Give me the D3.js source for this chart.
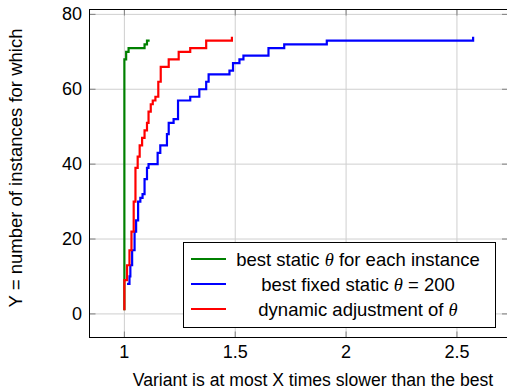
<!DOCTYPE html>
<html>
<head>
<meta charset="utf-8">
<script src="https://cdn.jsdelivr.net/npm/d3@7"></script>
<style>
  body { margin: 0; background: #fff; }
  text { font-family: "Liberation Sans", Arial, sans-serif; fill: #000; }
  .math { font-family: "Liberation Serif", "DejaVu Serif", serif; font-style: italic; }
</style>
</head>
<body>
<svg id="svg1" width="507" height="392"></svg>
<script>
// tick labels
var xTicks = [1, 1.5, 2, 2.5];
var yTicks = [0, 20, 40, 60, 80];

// step curves: ratio where the count steps up, count after the step
var greenX = [1.000, 1.000, 1.008, 1.019, 1.091, 1.102, 1.114];
var greenY = [1, 68, 70, 71, 72, 73, 73];

var blueX = [1.012, 1.023, 1.027, 1.035, 1.046, 1.053, 1.062, 1.072, 1.082, 1.091, 1.102, 1.109,
             1.150, 1.162, 1.192, 1.200, 1.222, 1.242, 1.297, 1.338, 1.369, 1.380, 1.474, 1.490,
             1.519, 1.537, 1.650, 1.721, 1.913, 2.573];
var blueY = [8, 10, 13, 17, 22, 25, 30, 31, 32, 36, 39, 40,
             43, 45, 48, 51, 52, 57, 58, 60, 62, 64, 65, 67,
             68, 69, 71, 72, 73, 74];

var redX = [1.000, 1.000, 1.012, 1.023, 1.032, 1.042, 1.050, 1.060, 1.069, 1.080, 1.091, 1.102,
            1.109, 1.119, 1.128, 1.140, 1.153, 1.164, 1.200, 1.245, 1.297, 1.369, 1.485];
var redY = [1, 9, 13, 17, 22, 30, 39, 42, 45, 47, 49, 51,
            54, 56, 57, 58, 62, 66, 68, 70, 71, 73, 74];

var legendLabels = ["best static \u03b8 for each instance", "best fixed static \u03b8 = 200", "dynamic adjustment of \u03b8"];
var seriesColors = ["#008000", "#0000ff", "#ff0000"];

var svg = d3.select('svg');

var plotLeft = 89.5, plotRight = 508, plotTop = 9.5, plotBottom = 337.5;

var x = d3.scaleLinear().domain([0.8427, 2.7303]).range([plotLeft, plotRight]);
var y = d3.scaleLinear().domain([-6.3, 81.3]).range([plotBottom, plotTop]);

svg.append('clipPath').attr('id', 'clip')
    .append('rect')
    .attr('x', plotLeft).attr('y', plotTop)
    .attr('width', plotRight - plotLeft).attr('height', plotBottom - plotTop);

// grid
var grid = svg.append('g');
grid.selectAll('.vg').data(xTicks).enter().append('line')
    .attr('x1', function(d){ return x(d); }).attr('x2', function(d){ return x(d); })
    .attr('y1', plotTop).attr('y2', plotBottom)
    .attr('stroke', '#cfcfcf').attr('stroke-width', 1);
grid.selectAll('.hg').data(yTicks).enter().append('line')
    .attr('y1', function(d){ return y(d); }).attr('y2', function(d){ return y(d); })
    .attr('x1', plotLeft).attr('x2', plotRight)
    .attr('stroke', '#cfcfcf').attr('stroke-width', 1);

// inward ticks on all sides
var tickLen = 6;
var ticks = svg.append('g').attr('stroke', '#808080').attr('stroke-width', 1);
xTicks.forEach(function(d){
  ticks.append('line').attr('x1', x(d)).attr('x2', x(d)).attr('y1', plotBottom).attr('y2', plotBottom - tickLen);
  ticks.append('line').attr('x1', x(d)).attr('x2', x(d)).attr('y1', plotTop).attr('y2', plotTop + tickLen);
});
yTicks.forEach(function(d){
  ticks.append('line').attr('y1', y(d)).attr('y2', y(d)).attr('x1', plotLeft).attr('x2', plotLeft + tickLen);
  ticks.append('line').attr('y1', y(d)).attr('y2', y(d)).attr('x1', plotRight).attr('x2', plotRight - tickLen);
});

// curves
var line = d3.line()
    .x(function(d){ return x(d[0]); })
    .y(function(d){ return y(d[1]); })
    .curve(d3.curveStepAfter);

var series = [d3.zip(greenX, greenY), d3.zip(blueX, blueY), d3.zip(redX, redY)];

svg.append('g').attr('clip-path', 'url(#clip)')
    .selectAll('path')
    .data(series)
    .enter()
    .append('path')
    .attr('d', line)
    .attr('fill', 'none')
    .attr('stroke', function(d, i){ return seriesColors[i]; })
    .attr('stroke-width', 2.2);

// frame
svg.append('rect')
    .attr('x', plotLeft).attr('y', plotTop)
    .attr('width', plotRight - plotLeft).attr('height', plotBottom - plotTop)
    .attr('fill', 'none').attr('stroke', '#000').attr('stroke-width', 1);

// tick labels
svg.selectAll('.xl').data(xTicks).enter().append('text')
    .attr('x', function(d){ return x(d); })
    .attr('y', 358)
    .attr('text-anchor', 'middle')
    .style('font-size', '18px')
    .text(function(d){ return d; });

svg.selectAll('.yl').data(yTicks).enter().append('text')
    .attr('x', 82)
    .attr('y', function(d){ return y(d) + 6; })
    .attr('text-anchor', 'end')
    .style('font-size', '18px')
    .text(function(d){ return d; });

// axis labels
svg.append('text')
    .attr('x', 313).attr('y', 386)
    .attr('text-anchor', 'middle')
    .style('font-size', '17.6px')
    .text('Variant is at most X times slower than the best');

svg.append('text')
    .attr('transform', 'translate(22,168) rotate(-90)')
    .attr('text-anchor', 'middle')
    .style('font-size', '18.5px')
    .text('Y = number of instances for which');

// legend
var lg = svg.append('g');
lg.append('rect')
    .attr('x', 183.5).attr('y', 242.5)
    .attr('width', 312).attr('height', 85)
    .attr('fill', '#fff').attr('stroke', '#000').attr('stroke-width', 1);

var rowY = [259, 284, 309];
legendLabels.forEach(function(lab, i){
  lg.append('line')
    .attr('x1', 191).attr('x2', 226)
    .attr('y1', rowY[i]).attr('y2', rowY[i])
    .attr('stroke', seriesColors[i]).attr('stroke-width', 2.2);
  var t = lg.append('text')
    .attr('x', 358).attr('y', rowY[i] + 6.5)
    .attr('text-anchor', 'middle')
    .style('font-size', '18.5px');
  var parts = lab.split('\u03b8');
  parts.forEach(function(p, j){
    if (j > 0) t.append('tspan').attr('class', 'math').text('\u03b8');
    t.append('tspan').text(p);
  });
});
</script>
</body>
</html>
